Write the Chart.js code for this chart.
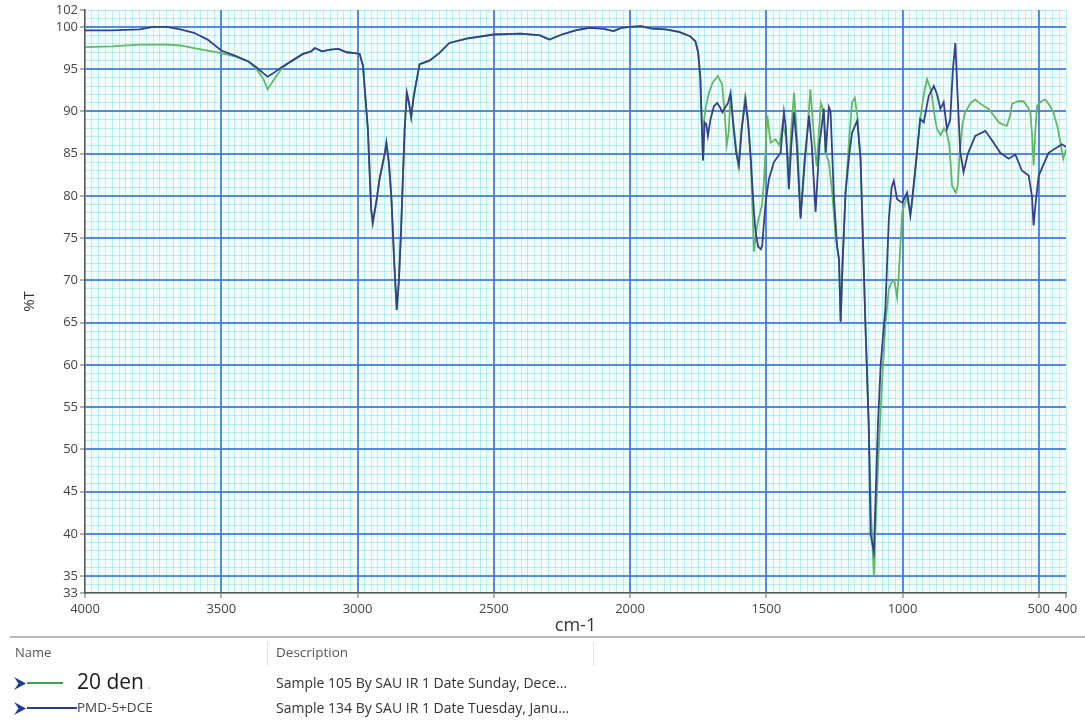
<!DOCTYPE html>
<html><head><meta charset="utf-8">
<script src="https://cdn.jsdelivr.net/npm/chart.js@4"></script>
<style>
html,body{margin:0;padding:0;background:#fff;width:1085px;height:722px;overflow:hidden;font-family:"Open Sans","Noto Sans",sans-serif;color:#333;}
#wrap{position:absolute;left:0;top:0;width:1085px;height:640px;}
#legend{position:absolute;left:0;top:0;width:1085px;height:722px;pointer-events:none;}
.t{position:absolute;white-space:nowrap;line-height:1;}
.sep{position:absolute;left:10px;right:0;top:636px;height:2px;background:#b8b8b8;}
.vs{position:absolute;top:642px;width:1px;height:24px;background:#e4e4e4;}
.ln{position:absolute;height:2px;}
.arr{position:absolute;width:12px;height:13px;}
</style>
</head><body>
<div id="wrap"><canvas id="c" width="1085" height="640"></canvas></div>
<div id="legend">
  <div class="sep"></div>
  <div class="vs" style="left:267px"></div>
  <div class="vs" style="left:593px"></div>
  <div class="t" style="left:15px;top:646px;font-size:13px;color:#555">Name</div>
  <div class="t" style="left:276px;top:646px;font-size:13.5px;color:#555">Description</div>
  <svg class="arr" style="left:14px;top:677px" viewBox="0 0 12 13"><polygon points="0,0 12,6.5 0,13 4.5,6.5" fill="#1f3c96"/></svg>
  <div class="ln" style="left:27px;top:682px;width:36px;background:#3f9f4a"></div>
  <div class="t" id="n1" style="left:77px;top:671px;font-size:21px;color:#1a1a1a"></div>
  <div class="t" id="d1" style="left:276px;top:676px;font-size:14px;color:#333"></div>
  <svg class="arr" style="left:14px;top:702px" viewBox="0 0 12 13"><polygon points="0,0 12,6.5 0,13 4.5,6.5" fill="#1f3c96"/></svg>
  <div class="ln" style="left:27px;top:707px;width:50px;background:#2e3b86"></div>
  <div class="t" id="n2" style="left:77px;top:701px;font-size:13.5px;color:#444"></div>
  <div class="t" id="d2" style="left:276px;top:701px;font-size:14px;color:#333"></div>
</div>
<script>
// ---- tick labels ----
const xTickValues = [4000, 3500, 3000, 2500, 2000, 1500, 1000, 500, 400];
const yTickValues = [33, 35, 40, 45, 50, 55, 60, 65, 70, 75, 80, 85, 90, 95, 100, 102];

// ---- legend texts ----
const seriesNames = ['20 den', 'PMD-5+DCE'];
const seriesDescriptions = ['Sample 105 By SAU IR 1 Date Sunday, Dece...', 'Sample 134 By SAU IR 1 Date Tuesday, Janu...'];

// ---- series 1: "20 den" (green) ----
const greenWave = [
 4000,3900,3800,3700,3650,3600,3550,3500,3450,3400,
 3370,3345,3330,3310,3280,3250,3200,3170,3157,3130,
 3100,3070,3040,3010,2992,2980,2962,2950,2944,2930,
 2919,2900,2894,2885,2876,2865,2856,2848,2840,2827,
 2819,2811,2803,2795,2787,2772,2736,2700,2663,2600,
 2500,2400,2330,2296,2250,2200,2150,2100,2060,2030,
 2000,1960,1920,1870,1820,1780,1760,1750,1742,1736,
 1732,1728,1722,1710,1698,1678,1662,1652,1645,1638,
 1631,1615,1603,1590,1578,1568,1557,1545,1538,1530,
 1515,1508,1496,1484,1466,1452,1440,1428,1417,1408,
 1398,1385,1374,1355,1338,1325,1315,1300,1289,1282,
 1270,1258,1245,1233,1227,1220,1209,1195,1185,1175,
 1166,1154,1145,1136,1124,1115,1105,1095,1087,1075,
 1063,1050,1040,1030,1020,1014,1008,1001,983,971,
 965,947,935,922,910,895,880,873,860,848,
 838,828,818,805,798,790,780,770,750,733,
 710,684,660,647,630,617,605,598,575,556,
 540,531,524,519,512,506,490,476,460,446,
 430,410,400];
const greenT = [
 97.6,97.7,97.9,97.9,97.8,97.5,97.2,96.9,96.5,95.9,
 95.0,93.8,92.6,93.6,95.0,95.8,96.8,97.1,97.5,97.1,
 97.3,97.4,97.0,96.9,96.8,95.4,87.9,78.5,76.8,79.5,
 82.0,85.0,86.3,84.0,80.0,72.0,66.5,70.0,76.1,87.9,
 92.2,91.0,89.3,91.5,93.0,95.6,96.0,96.9,98.1,98.6,
 99.1,99.2,99.0,98.5,99.1,99.6,99.9,99.8,99.5,99.9,
 100.0,100.1,99.8,99.7,99.4,98.9,98.3,97.0,94.0,88.0,
 84.2,89.0,90.5,92.2,93.3,94.2,93.2,89.5,86.0,87.5,
 91.8,87.0,83.6,88.0,91.6,89.5,84.2,73.4,75.5,77.0,
 79.0,82.0,89.5,86.3,86.7,86.0,88.5,87.0,83.0,88.0,
 92.2,86.0,77.5,85.0,92.6,87.0,83.5,91.0,90.0,85.1,
 84.0,80.4,75.0,72.5,65.1,72.0,80.4,87.0,91.1,91.6,
 89.5,84.4,75.0,64.7,53.0,42.0,35.0,44.0,50.1,58.0,
 64.7,69.0,69.8,70.0,68.0,70.5,74.0,78.1,80.0,77.8,
 79.0,85.1,89.1,92.0,93.8,92.5,89.0,87.9,87.2,88.0,
 87.5,86.0,81.2,80.4,81.0,85.0,88.5,89.9,91.0,91.4,
 90.8,90.3,89.3,88.7,88.4,88.3,89.5,90.9,91.2,91.2,
 90.5,89.9,87.0,83.6,88.0,90.7,91.2,91.4,90.7,89.9,
 88.0,84.4,85.5];

// ---- series 2: "PMD-5+DCE" (dark blue) ----
const blueWave = [
 4000,3900,3800,3750,3700,3650,3600,3550,3500,3450,
 3400,3370,3345,3330,3310,3280,3250,3200,3170,3157,
 3130,3100,3070,3040,3010,2992,2980,2962,2950,2944,
 2930,2919,2900,2894,2885,2876,2865,2856,2848,2840,
 2827,2819,2811,2803,2795,2787,2772,2736,2700,2663,
 2600,2500,2400,2330,2296,2250,2200,2150,2100,2060,
 2030,2000,1960,1920,1870,1820,1780,1760,1750,1742,
 1736,1732,1726,1720,1714,1705,1692,1680,1670,1661,
 1650,1640,1631,1620,1610,1600,1590,1576,1565,1557,
 1545,1539,1530,1520,1515,1508,1502,1490,1472,1447,
 1440,1435,1428,1417,1408,1398,1388,1374,1360,1343,
 1333,1319,1305,1289,1282,1270,1264,1252,1240,1233,
 1227,1220,1209,1195,1185,1166,1154,1136,1124,1117,
 1105,1098,1090,1080,1070,1063,1057,1050,1040,1032,
 1020,1001,983,971,960,947,935,922,904,885,
 873,861,849,837,825,815,806,798,788,776,
 760,733,696,670,641,610,586,562,537,525,
 519,512,500,464,415,400];
const blueT = [
 99.6,99.6,99.7,100.0,100.0,99.7,99.3,98.5,97.2,96.6,
 95.9,95.2,94.5,94.1,94.5,95.2,95.8,96.8,97.1,97.5,
 97.1,97.3,97.4,97.0,96.9,96.8,95.4,87.9,78.5,76.8,
 79.5,82.0,85.0,86.3,84.0,80.0,72.0,66.5,70.0,76.1,
 87.9,92.2,91.0,89.3,91.5,93.0,95.6,96.0,96.9,98.1,
 98.6,99.1,99.2,99.0,98.5,99.1,99.6,99.9,99.8,99.5,
 99.9,100.0,100.1,99.8,99.7,99.4,98.9,98.3,97.0,94.0,
 88.0,84.2,88.7,88.5,87.1,89.0,90.6,91.0,90.5,89.9,
 90.5,91.0,92.2,88.0,85.0,83.6,88.0,91.4,88.0,84.5,
 78.0,75.7,74.0,73.7,74.1,77.0,79.3,82.0,84.0,85.1,
 88.0,89.9,88.0,80.8,86.0,89.9,86.0,77.3,84.0,89.5,
 86.0,78.1,86.0,90.3,85.1,90.5,90.0,80.0,74.0,72.5,
 65.1,72.0,80.4,85.0,87.5,88.9,84.4,64.7,52.9,39.9,
 37.9,45.0,53.0,60.0,64.0,66.5,71.6,77.3,81.0,81.8,
 79.6,79.2,80.4,77.7,81.0,85.1,89.1,88.7,91.8,93.0,
 92.0,90.3,91.1,87.9,89.0,95.0,98.1,92.0,85.2,82.8,
 85.0,87.1,87.7,86.5,85.1,84.4,84.9,83.0,82.4,80.0,
 76.5,79.0,82.4,85.1,86.1,85.8];

document.getElementById('n1').appendChild(document.createTextNode(seriesNames[0]));
const dot = document.createElement('span');
dot.textContent = ' .';
dot.style.cssText = 'font-size:13px;color:#aaa';
document.getElementById('n1').appendChild(dot);
document.getElementById('n2').textContent = seriesNames[1];
document.getElementById('d1').textContent = seriesDescriptions[0];
document.getElementById('d2').textContent = seriesDescriptions[1];

const MAJOR = 'rgba(58,120,222,0.85)';
const MINOR = 'rgba(110,222,226,0.45)';

const bgPlugin = {
  id: 'plotBg',
  beforeDraw(chart) {
    const {ctx, chartArea: a} = chart;
    ctx.save();
    ctx.fillStyle = '#f4fdfd';
    ctx.fillRect(a.left, a.top, a.right - a.left, a.bottom - a.top);
    ctx.restore();
  }
};

const tickFont = {family: "'Open Sans','Noto Sans',sans-serif", size: 13};

new Chart(document.getElementById('c'), {
  type: 'line',
  data: {
    datasets: [
      {label: seriesNames[1], data: blueWave.map((w, i) => ({x: w, y: blueT[i]})),
       borderColor: '#33408c', borderWidth: 1.8, pointRadius: 0, tension: 0, fill: false},
      {label: seriesNames[0], data: greenWave.map((w, i) => ({x: w, y: greenT[i]})),
       borderColor: '#62b865', borderWidth: 1.8, pointRadius: 0, tension: 0, fill: false}
    ]
  },
  options: {
    responsive: false,
    animation: false,
    devicePixelRatio: 1,
    layout: {padding: {top: 10, right: 19, left: 0, bottom: 0}},
    plugins: {legend: {display: false}, tooltip: {enabled: false}},
    scales: {
      xMinor: {
        type: 'linear', position: 'bottom', min: 400, max: 4000, reverse: true, z: -1,
        ticks: {display: false, stepSize: 25, maxTicksLimit: 1000},
        grid: {color: MINOR, lineWidth: 1, drawTicks: false},
        border: {display: false},
        afterFit: s => { s.height = 0; }
      },
      yMinor: {
        type: 'linear', position: 'left', min: 33, max: 102, z: -1,
        ticks: {display: false, stepSize: 1, maxTicksLimit: 1000},
        grid: {color: MINOR, lineWidth: 1, drawTicks: false},
        border: {display: false},
        afterFit: s => { s.width = 0; }
      },
      x: {
        type: 'linear', position: 'bottom', min: 400, max: 4000, reverse: true,
        afterBuildTicks: s => { s.ticks = xTickValues.map(v => ({value: v})); },
        afterFit: s => { s.height = 47; },
        ticks: {autoSkip: false, maxRotation: 0, minRotation: 0, font: tickFont, color: '#444', padding: 3,
                callback: v => String(v)},
        grid: {color: c => (c.tick && (c.tick.value === 4000 || c.tick.value === 400)) ? 'rgba(0,0,0,0)' : MAJOR,
               lineWidth: 2, tickLength: 5, tickColor: '#666', tickWidth: 1},
        border: {color: '#555', width: 1.5},
        title: {display: true, text: 'cm-1', color: '#333',
                font: {family: "'Open Sans','Noto Sans',sans-serif", size: 18}, padding: {top: 0, bottom: 3}}
      },
      y: {
        type: 'linear', position: 'left', min: 33, max: 102,
        afterBuildTicks: s => { s.ticks = yTickValues.map(v => ({value: v})); },
        afterFit: s => { s.width = 85; },
        ticks: {autoSkip: false, font: tickFont, color: '#444', padding: 2, callback: v => String(v)},
        grid: {color: c => (c.tick && (c.tick.value === 33 || c.tick.value === 102)) ? 'rgba(0,0,0,0)' : MAJOR,
               lineWidth: 2, tickLength: 5, tickColor: '#666', tickWidth: 1},
        border: {color: '#555', width: 1.5},
        title: {display: true, text: '%T', color: '#333',
                font: {family: "'Open Sans','Noto Sans',sans-serif", size: 15}, padding: {top: 21, bottom: 0}}
      }
    }
  },
  plugins: [bgPlugin]
});
</script>
</body></html>
